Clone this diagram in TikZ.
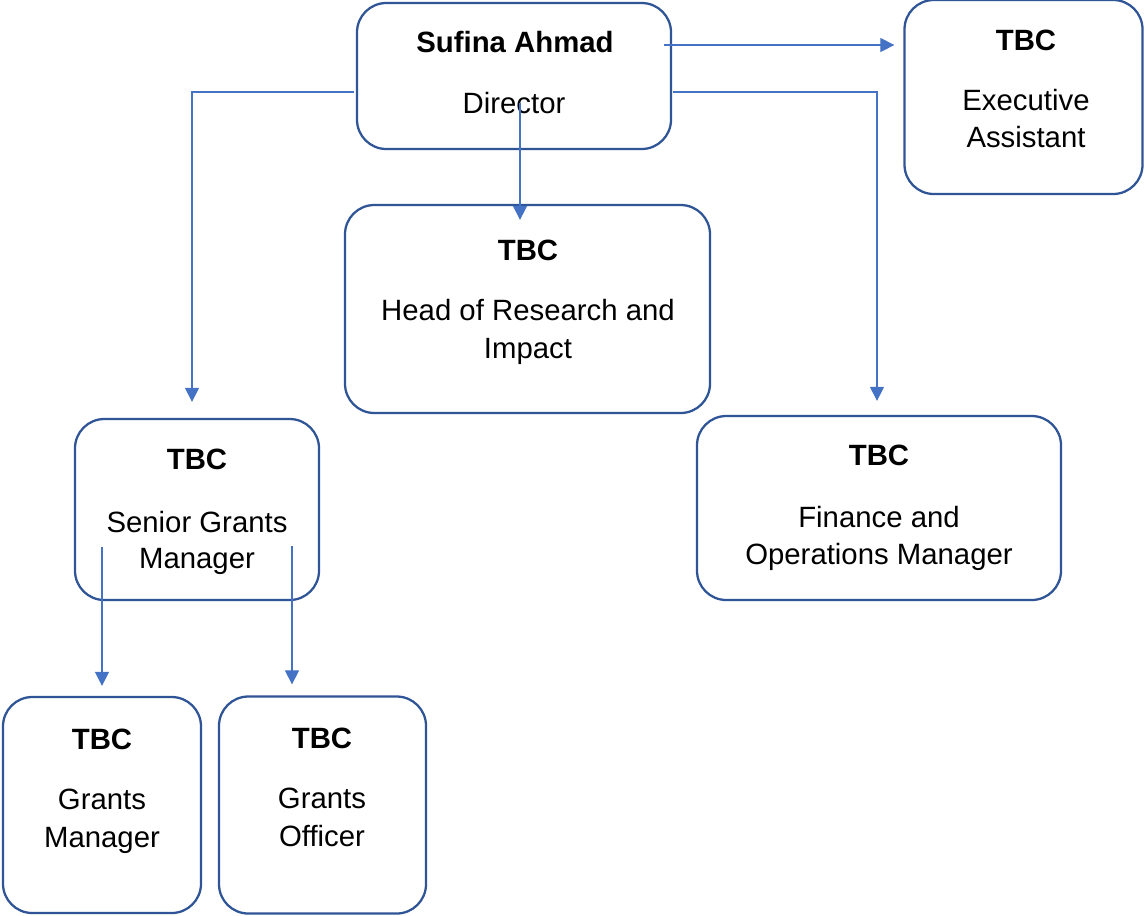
\documentclass[tikz,border=0pt]{standalone}
\usepackage{fontspec}
\setmainfont{Liberation Sans}
\usetikzlibrary{arrows.meta,positioning}
\definecolor{boxblue}{RGB}{47,85,151}
\definecolor{linkblue}{RGB}{68,114,196}
\tikzset{
  box/.style={draw=boxblue, line width=1.7pt, rounded corners=22pt, fill=white, inner sep=0pt},
  link/.style={draw=linkblue, line width=0.8pt, -{Triangle[width=10.5pt,length=10.5pt]}},
  ttl/.style={anchor=base, inner sep=0pt, font=\fontsize{22pt}{26pt}\selectfont\bfseries},
  txt/.style={anchor=base, inner sep=0pt, font=\fontsize{22pt}{26pt}\selectfont}
}
\begin{document}
\begin{tikzpicture}[x=0.75pt,y=-0.75pt]
        \useasboundingbox (0,0) rectangle (1145,915);

        % boxes
        \node[box, minimum width=235.5pt, minimum height=109.5pt] (dir) at (514,76) {};
        \node[box, minimum width=178.5pt, minimum height=145.5pt] (ea) at (1023.5,97) {};
        \node[box, minimum width=273.75pt, minimum height=156pt] (head) at (527.5,309) {};
        \node[box, minimum width=183pt, minimum height=135.75pt] (sgm) at (197,509.5) {};
        \node[box, minimum width=273pt, minimum height=138pt] (fin) at (879,508) {};
        \node[box, minimum width=148.5pt, minimum height=162pt] (gm) at (102,805) {};
        \node[box, minimum width=155.25pt, minimum height=162.75pt] (go) at (322.5,805) {};

        % texts
        \node[ttl] (dirT) at (515,52) {Sufina Ahmad};
        \node[txt] (dirB) at (514,113) {Director};

        \node[ttl] (eaT) at (1026,50) {TBC};
        \node[txt] (eaB1) at (1026,110) {Executive};
        \node[txt] (eaB2) at (1026,147) {Assistant};

        \node[ttl] (headT) at (528,260) {TBC};
        \node[txt] (headB1) at (528,320) {Head of Research and};
        \node[txt] (headB2) at (528,358) {Impact};

        \node[ttl] (sgmT) at (197,469) {TBC};
        \node[txt] (sgmB1) at (197,532) {Senior Grants};
        \node[txt] (sgmB2) at (197,568) {Manager};

        \node[ttl] (finT) at (879,465) {TBC};
        \node[txt] (finB1) at (879,527) {Finance and};
        \node[txt] (finB2) at (879,564) {Operations Manager};

        \node[ttl] (gmT) at (102,749) {TBC};
        \node[txt] (gmB1) at (102,809) {Grants};
        \node[txt] (gmB2) at (102,847) {Manager};

        \node[ttl] (goT) at (322,748) {TBC};
        \node[txt] (goB1) at (322,808) {Grants};
        \node[txt] (goB2) at (322,846) {Officer};

        % connectors
        \coordinate (dirR) at ([shift={(-8,-31)}]dir.east);
        \coordinate (dirL) at ([shift={(-2,16)}]dir.west);
        \coordinate (dirE) at ([shift={(1,16)}]dir.east);
        \coordinate (dirD) at ([shift={(6,27)}]dir.center);
        \coordinate (sgmIn) at ([shift={(-5,0)}]sgm.north);
        \coordinate (finIn) at ([shift={(-2,0)}]fin.north);
        \coordinate (headIn) at ([shift={(0,16)}]head.north);
        \coordinate (sgmL) at ([shift={(-95,37.5)}]sgm.center);
        \coordinate (sgmR) at ([shift={(95,36.5)}]sgm.center);

        \draw[link, shorten >=6.75pt] (dirR) -- (dirR -| ea.west);
        \draw[link, shorten >=12pt] (dirL) -| (sgmIn);
        \draw[link, shorten >=10.5pt] (dirE) -| (finIn);
        \draw[link] (dirD) -- (dirD |- headIn);
        \draw[link, shorten >=7.5pt] (sgmL) -- (sgmL |- gm.north);
        \draw[link, shorten >=8.25pt] (sgmR) -- (sgmR |- go.north);
\end{tikzpicture}
\end{document}
